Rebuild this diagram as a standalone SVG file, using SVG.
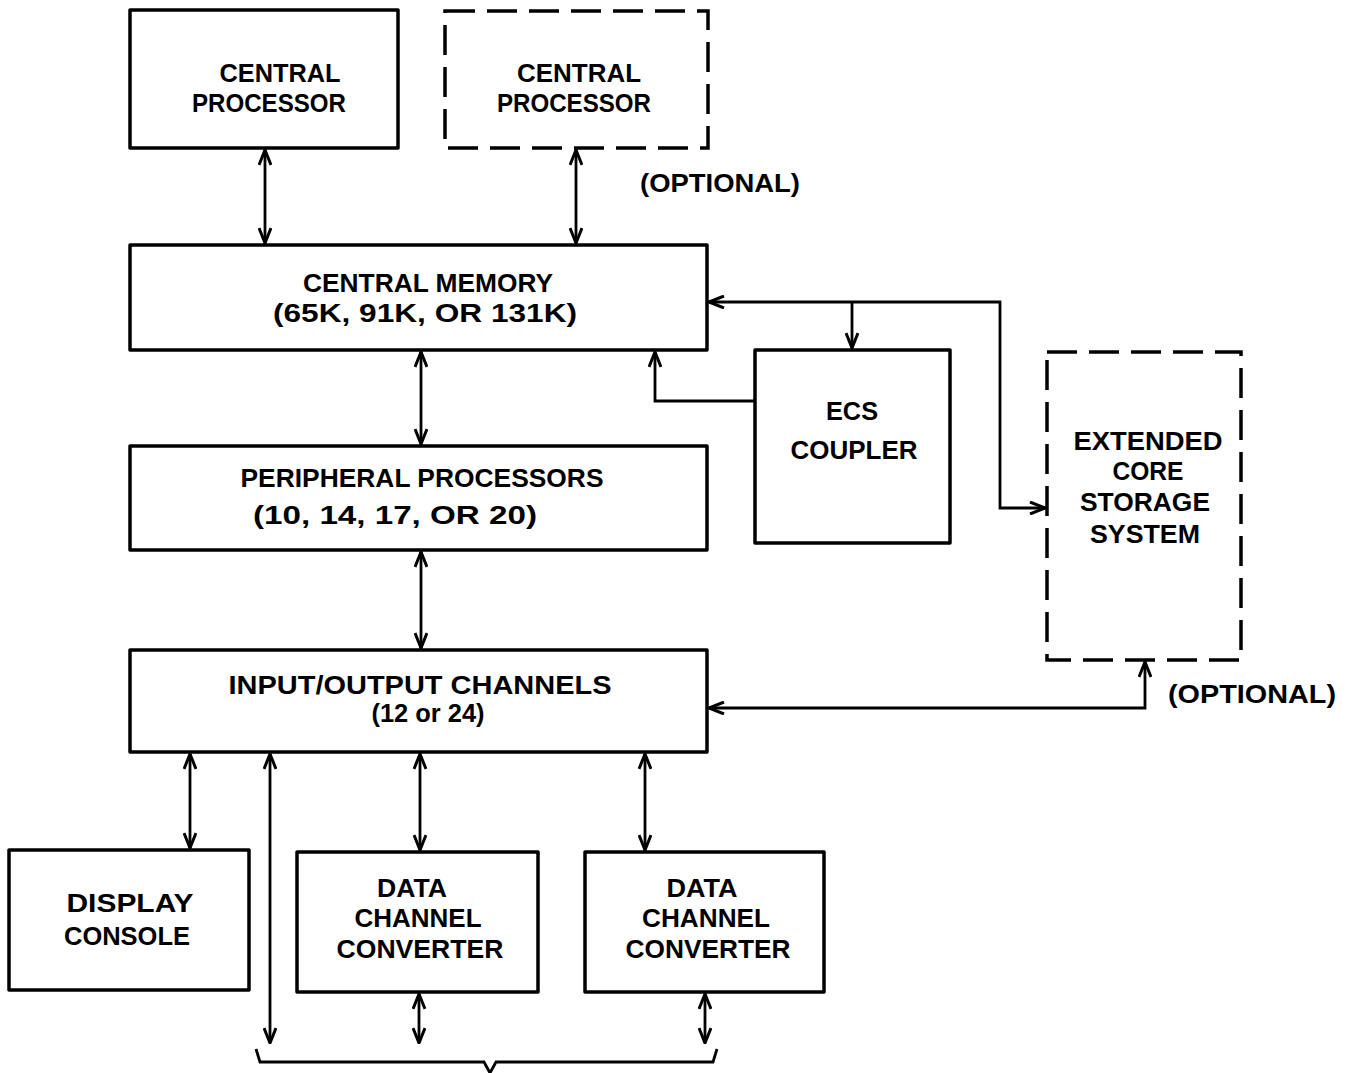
<svg xmlns="http://www.w3.org/2000/svg" width="1348" height="1073" viewBox="0 0 1348 1073">
<defs>
<marker id="ah" viewBox="0 0 17 14" refX="16" refY="7" markerWidth="17" markerHeight="14" markerUnits="userSpaceOnUse" orient="auto-start-reverse">
<path d="M1,1 L16,7 L1,13" fill="none" stroke="#000" stroke-width="3"/>
</marker>
</defs>
<style>
.box{fill:none;stroke:#000;stroke-width:3.5;stroke-linejoin:round}
.dash{fill:none;stroke:#000;stroke-width:3.5;stroke-dasharray:30 12}
.ln{fill:none;stroke:#000;stroke-width:2.8}
text{font-family:"Liberation Sans",Arial,sans-serif;font-weight:bold;font-size:25px;text-anchor:middle;fill:#000}
</style>
<rect width="1348" height="1073" fill="#fff"/>
<g id="cp1"><rect class="box" x="130" y="10" width="268" height="138"/>
<text x="280" y="82" textLength="121" lengthAdjust="spacingAndGlyphs">CENTRAL</text>
<text x="269" y="112" textLength="154" lengthAdjust="spacingAndGlyphs">PROCESSOR</text></g>
<g id="cp2"><rect class="dash" x="445" y="11" width="263" height="137"/>
<text x="579" y="82" textLength="124" lengthAdjust="spacingAndGlyphs">CENTRAL</text>
<text x="574" y="112" textLength="154" lengthAdjust="spacingAndGlyphs">PROCESSOR</text></g>
<g id="opt1"><text x="720" y="192" textLength="160" lengthAdjust="spacingAndGlyphs">(OPTIONAL)</text></g>
<g id="cm"><rect class="box" x="130" y="245" width="577" height="105"/>
<text x="428" y="292" textLength="250" lengthAdjust="spacingAndGlyphs">CENTRAL MEMORY</text>
<text x="425" y="322" textLength="304" lengthAdjust="spacingAndGlyphs">(65K, 91K, OR 131K)</text></g>
<g id="ecs"><rect class="box" x="755" y="350" width="195" height="193"/>
<text x="852" y="420" textLength="52" lengthAdjust="spacingAndGlyphs">ECS</text>
<text x="854" y="459" textLength="127" lengthAdjust="spacingAndGlyphs">COUPLER</text></g>
<g id="ext"><rect class="dash" x="1047" y="352" width="194" height="308"/>
<text x="1148" y="450" textLength="149" lengthAdjust="spacingAndGlyphs">EXTENDED</text>
<text x="1148" y="480" textLength="71" lengthAdjust="spacingAndGlyphs">CORE</text>
<text x="1145" y="511" textLength="130" lengthAdjust="spacingAndGlyphs">STORAGE</text>
<text x="1145" y="543" textLength="110" lengthAdjust="spacingAndGlyphs">SYSTEM</text></g>
<g id="pp"><rect class="box" x="130" y="446" width="577" height="104"/>
<text x="422" y="487" textLength="363" lengthAdjust="spacingAndGlyphs">PERIPHERAL PROCESSORS</text>
<text x="395" y="524" textLength="284" lengthAdjust="spacingAndGlyphs">(10, 14, 17, OR 20)</text></g>
<g id="io"><rect class="box" x="130" y="650" width="577" height="102"/>
<text x="420" y="694" textLength="383" lengthAdjust="spacingAndGlyphs">INPUT/OUTPUT CHANNELS</text>
<text x="428" y="722" textLength="113" lengthAdjust="spacingAndGlyphs">(12 or 24)</text></g>
<g id="opt2"><text x="1252" y="703" textLength="168" lengthAdjust="spacingAndGlyphs">(OPTIONAL)</text></g>
<g id="disp"><rect class="box" x="9" y="850" width="240" height="140"/>
<text x="130" y="912" textLength="127" lengthAdjust="spacingAndGlyphs">DISPLAY</text>
<text x="127" y="945" textLength="126" lengthAdjust="spacingAndGlyphs">CONSOLE</text></g>
<g id="dcc1"><rect class="box" x="297" y="852" width="241" height="140"/>
<text x="412" y="897" textLength="70" lengthAdjust="spacingAndGlyphs">DATA</text>
<text x="418" y="927" textLength="127" lengthAdjust="spacingAndGlyphs">CHANNEL</text>
<text x="420" y="958" textLength="167" lengthAdjust="spacingAndGlyphs">CONVERTER</text></g>
<g id="dcc2"><rect class="box" x="585" y="852" width="239" height="140"/>
<text x="702" y="897" textLength="71" lengthAdjust="spacingAndGlyphs">DATA</text>
<text x="706" y="927" textLength="128" lengthAdjust="spacingAndGlyphs">CHANNEL</text>
<text x="708" y="958" textLength="165" lengthAdjust="spacingAndGlyphs">CONVERTER</text></g>
<g id="connectors">
<line class="ln" x1="265" y1="150" x2="265" y2="243" marker-start="url(#ah)" marker-end="url(#ah)"/>
<line class="ln" x1="576" y1="150" x2="576" y2="243" marker-start="url(#ah)" marker-end="url(#ah)"/>
<line class="ln" x1="421" y1="352" x2="421" y2="444" marker-start="url(#ah)" marker-end="url(#ah)"/>
<line class="ln" x1="421" y1="552" x2="421" y2="648" marker-start="url(#ah)" marker-end="url(#ah)"/>
<line class="ln" x1="190" y1="754" x2="190" y2="848" marker-start="url(#ah)" marker-end="url(#ah)"/>
<line class="ln" x1="420" y1="754" x2="420" y2="850" marker-start="url(#ah)" marker-end="url(#ah)"/>
<line class="ln" x1="645" y1="754" x2="645" y2="850" marker-start="url(#ah)" marker-end="url(#ah)"/>
<line class="ln" x1="270" y1="754" x2="270" y2="1043" marker-start="url(#ah)" marker-end="url(#ah)"/>
<line class="ln" x1="419" y1="994" x2="419" y2="1043" marker-start="url(#ah)" marker-end="url(#ah)"/>
<line class="ln" x1="705" y1="994" x2="705" y2="1043" marker-start="url(#ah)" marker-end="url(#ah)"/>
<path class="ln" d="M1045,508 L1000,508 L1000,302 L709,302" marker-start="url(#ah)" marker-end="url(#ah)"/>
<line class="ln" x1="852" y1="302" x2="852" y2="348" marker-end="url(#ah)"/>
<path class="ln" d="M755,401 L655,401 L655,352" marker-end="url(#ah)"/>
<path class="ln" d="M1145,662 L1145,708 L709,708" marker-start="url(#ah)" marker-end="url(#ah)"/>
<path class="ln" d="M256,1049 L260,1062 L484,1062 L490,1073 L496,1062 L713,1062 L717,1049" stroke-width="3.2"/>
</g>
</svg>
